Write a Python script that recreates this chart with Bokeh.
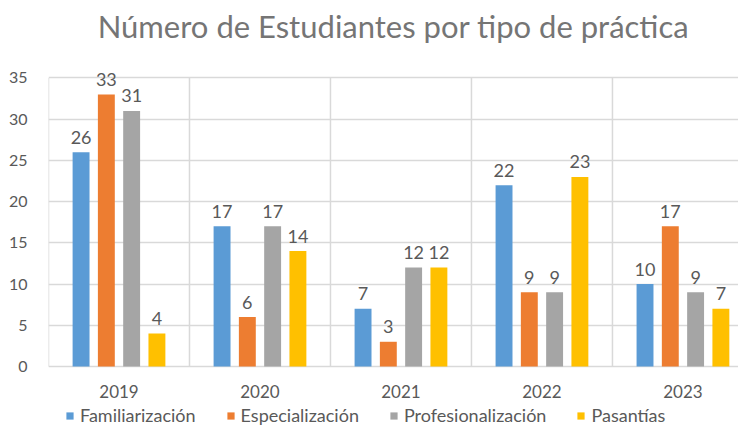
from bokeh.plotting import figure
from bokeh.models import (ColumnDataSource, Range1d, FixedTicker, Legend, LegendItem)
from bokeh.embed import file_html
from bokeh.resources import INLINE
from bokeh.core.properties import value

years = ["2019", "2020", "2021", "2022", "2023"]
series_names = ["Familiarización", "Especialización", "Profesionalización", "Pasantías"]
familiarizacion = [26, 17, 7, 22, 10]
especializacion = [33, 6, 3, 9, 17]
profesionalizacion = [31, 17, 12, 9, 9]
pasantias = [4, 14, 12, 23, 7]
y_ticks = [0, 5, 10, 15, 20, 25, 30, 35]

series_values = [familiarizacion, especializacion, profesionalizacion, pasantias]
colors = ["#5B9BD5", "#ED7D31", "#A5A5A5", "#FFC000"]
offsets = [-0.269, -0.0897, 0.0897, 0.269]
bar_w = 0.12

FONT = "Lato"
TXT = "#595959"
GRID = "#D9D9D9"

p = figure(width=738, height=426, output_backend="svg", toolbar_location=None,
           x_range=Range1d(0, 4.894), y_range=Range1d(-7.279, 38.82),
           min_border_left=48, min_border_right=0, min_border_top=46,
           min_border_bottom=0)
p.outline_line_color = None
p.xaxis.visible = False

p.title.text = "Número de Estudiantes por tipo de práctica"
p.title.text_font = FONT
p.title.text_font_size = "31px"
p.title.text_font_style = "normal"
p.title.text_color = "#757575"
p.title.align = "center"
p.title.standoff = 4

# horizontal grid
p.ygrid.ticker = FixedTicker(ticks=y_ticks)
p.ygrid.grid_line_color = GRID
p.ygrid.grid_line_width = 1.5
p.xgrid.grid_line_color = None

# vertical category separators from 0 to top tick
n = len(years)
bounds = list(range(n + 1))
p.segment(x0=bounds, x1=bounds, y0=[0] * (n + 1), y1=[y_ticks[-1]] * (n + 1),
          line_color=GRID, line_width=1.5)

renderers = []
for vals, col, off, name in zip(series_values, colors, offsets, series_names):
    xs = [i + 0.5 + off for i in range(n)]
    src = ColumnDataSource(dict(x=xs, top=vals, lab=[str(v) for v in vals]))
    r = p.vbar(x="x", top="top", width=bar_w, source=src, fill_color=col, line_color=None)
    p.text(x="x", y="top", text="lab", source=src, text_align="center",
           text_baseline="alphabetic", y_offset=-15, text_font=value(FONT),
           text_font_size="18px", text_color=TXT)
    renderers.append((name, r))

# category labels below the baseline
centers = [i + 0.5 for i in range(n)]
p.text(x=centers, y=[0] * n, text=years, text_align="center", text_baseline="middle",
       y_offset=25, text_font=value(FONT), text_font_size="17px", text_color=TXT)

# y axis
p.yaxis.ticker = FixedTicker(ticks=y_ticks)
p.yaxis.axis_line_color = None
p.yaxis.major_tick_line_color = None
p.yaxis.minor_tick_line_color = None
p.yaxis.major_label_standoff = 15
p.yaxis.major_label_text_font = FONT
p.yaxis.major_label_text_font_size = "16px"
p.yaxis.major_label_text_color = TXT

legend = Legend(items=[LegendItem(label=nm, renderers=[r]) for nm, r in renderers],
                location=(17, 0), orientation="horizontal",
                glyph_width=9, glyph_height=9, label_standoff=6, spacing=30,
                label_height=18, padding=0, margin=0, border_line_color=None,
                background_fill_alpha=0,
                label_text_font=FONT, label_text_font_size="18px", label_text_color=TXT)
p.add_layout(legend, "center")

open("out.html", "w").write(file_html(p, INLINE))
